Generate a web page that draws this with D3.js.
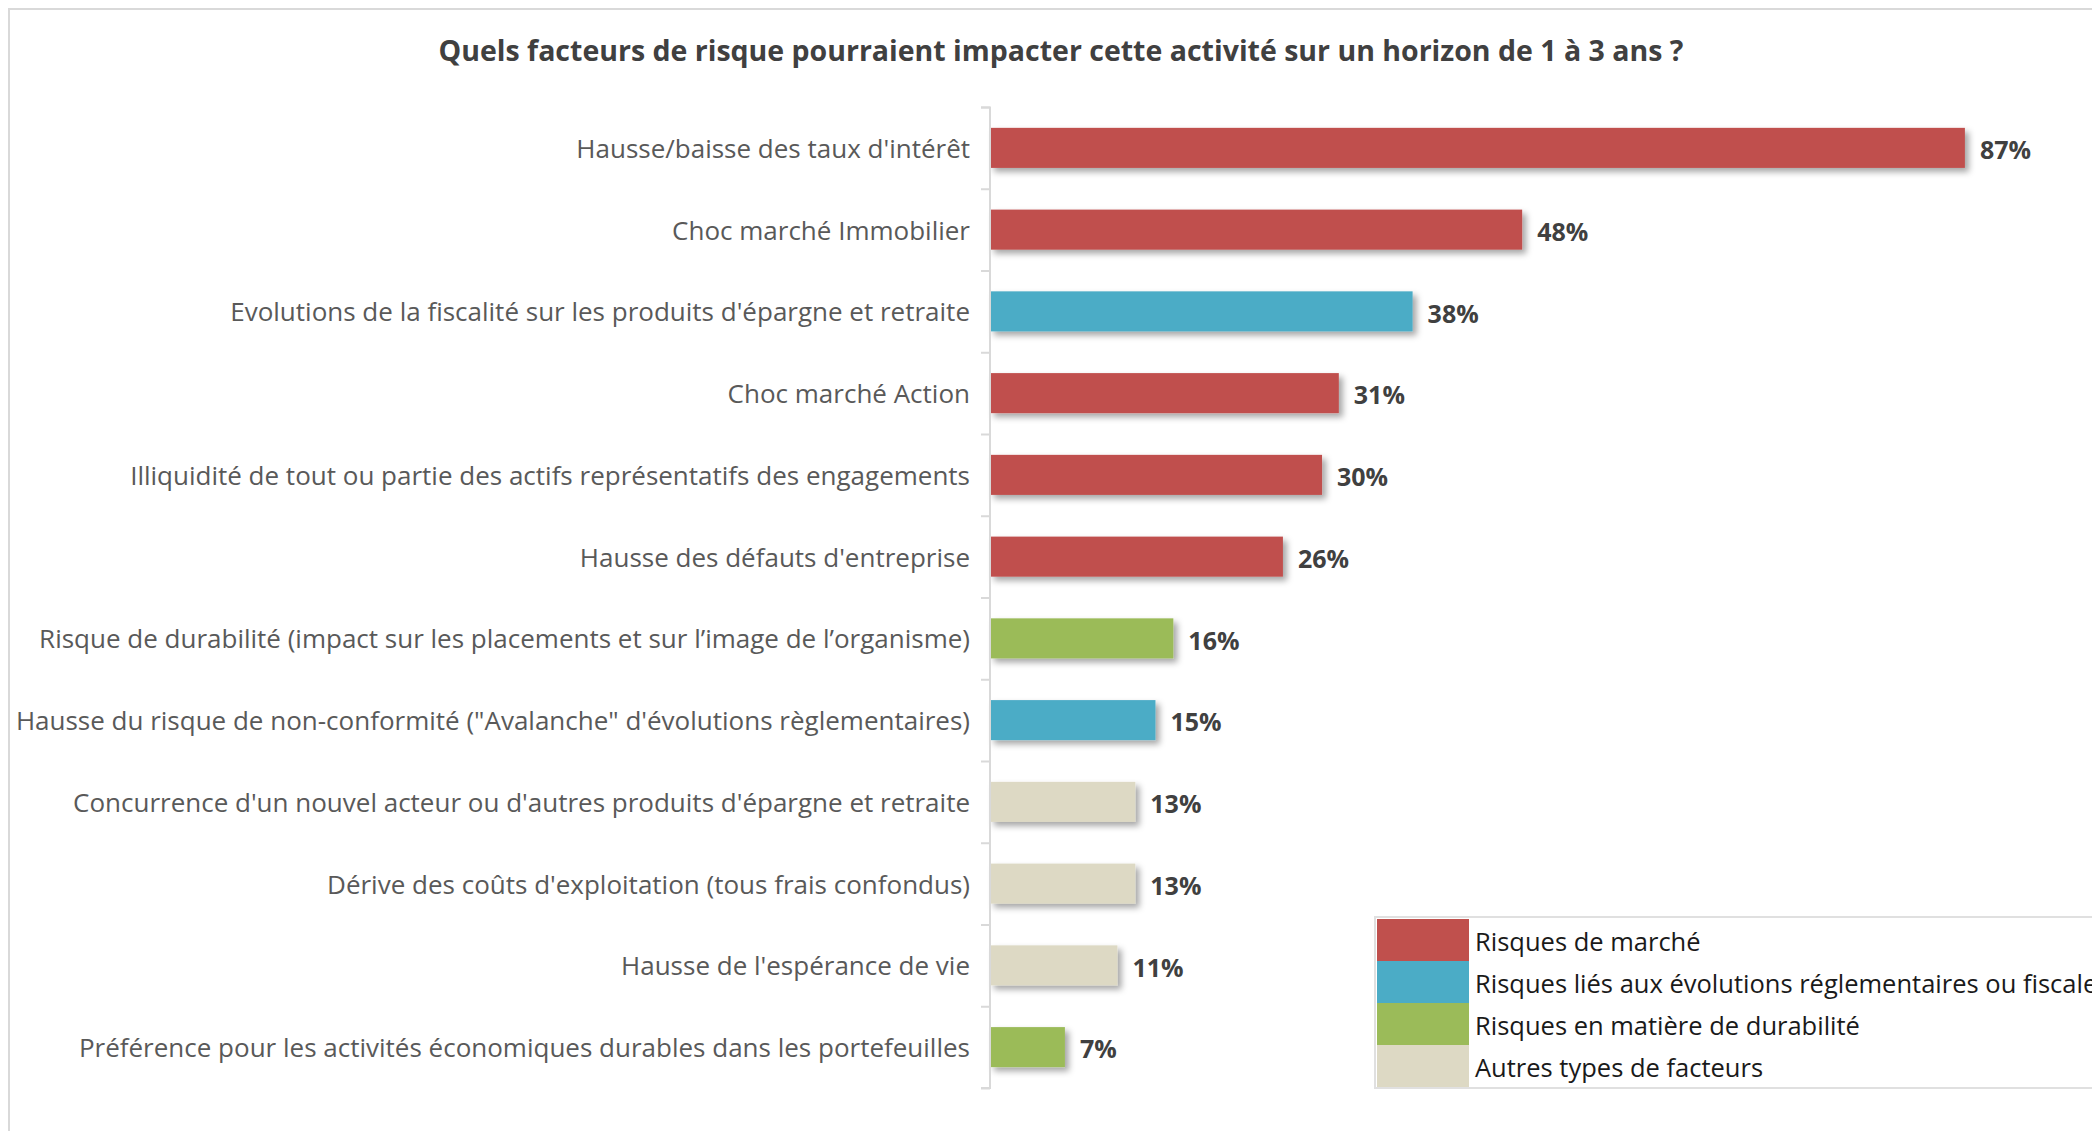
<!DOCTYPE html>
<html><head><meta charset="utf-8">
<script src="https://cdn.jsdelivr.net/npm/d3@7"></script>
<style>
html,body{margin:0;padding:0;background:#fff;overflow:hidden}
text{font-family:"Open Sans",sans-serif}
</style></head>
<body><svg id="chart" width="2092" height="1131"></svg>
<script>
const title = "Quels facteurs de risque pourraient impacter cette activité sur un horizon de 1 à 3 ans ?";
const categories = [
  "Hausse/baisse des taux d'intérêt",
  "Choc marché Immobilier",
  "Evolutions de la fiscalité sur les produits d'épargne et retraite",
  "Choc marché Action",
  "Illiquidité de tout ou partie des actifs représentatifs des engagements",
  "Hausse des défauts d'entreprise",
  "Risque de durabilité (impact sur les placements et sur l’image de l’organisme)",
  "Hausse du risque de non-conformité (\"Avalanche\" d'évolutions règlementaires)",
  "Concurrence d'un nouvel acteur ou d'autres produits d'épargne et retraite",
  "Dérive des coûts d'exploitation (tous frais confondus)",
  "Hausse de l'espérance de vie",
  "Préférence pour les activités économiques durables dans les portefeuilles"
];
const values = [0.872, 0.476, 0.378, 0.312, 0.297, 0.262, 0.164, 0.148, 0.130, 0.130, 0.114, 0.067];
const groups = ["marche","marche","regl","marche","marche","marche","dura","regl","autre","autre","autre","dura"];
const legendKeys = ["marche","regl","dura","autre"];
const legendLabels = ["Risques de marché","Risques liés aux évolutions réglementaires ou fiscales","Risques en matière de durabilité","Autres types de facteurs"];
const legendColors = ["#C0504D","#4BACC6","#9BBB59","#DDD9C4"];

const svg = d3.select("#chart");
const color = d3.scaleOrdinal().domain(legendKeys).range(legendColors);

const defs = svg.append("defs");
const f = defs.append("filter").attr("id","shadow").attr("x","-10%").attr("y","-20%").attr("width","130%").attr("height","160%");
f.append("feDropShadow").attr("dx",4).attr("dy",4).attr("stdDeviation",3).attr("flood-color","#000").attr("flood-opacity",0.35);

// outer frame
svg.append("path").attr("d","M9,1131 V9 H2092").attr("fill","none").attr("stroke","#D9D9D9").attr("stroke-width",2);

svg.append("text").attr("x",1061).attr("y",61).attr("text-anchor","middle")
  .attr("font-weight","bold").attr("font-size",28.5).attr("fill","#404040").text(title);

const x0 = 990;
const x = d3.scaleLinear().domain([0,1]).range([0,1118]);
const y = d3.scaleBand().domain(categories).range([107,1088]).paddingInner(0.51).paddingOuter(0.255);

const g = svg.append("g");
g.selectAll("rect.bar").data(categories).join("rect").attr("class","bar")
  .attr("x",x0).attr("y",d=>y(d)).attr("height",y.bandwidth())
  .attr("width",(d,i)=>x(values[i])).attr("fill",(d,i)=>color(groups[i]))
  .attr("filter","url(#shadow)");

// axis
const axis = d3.axisLeft(d3.scaleLinear().domain([0,categories.length]).range([107,1088]))
  .tickValues(d3.range(categories.length+1)).tickSize(9).tickFormat("");
const ag = svg.append("g").attr("transform",`translate(${x0},0)`).call(axis);
ag.selectAll("path,line").attr("stroke","#D9D9D9").attr("stroke-width",2);
ag.select(".domain").attr("d","M-9,107.5H0V1088H-9");

g.selectAll("text.cat").data(categories).join("text").attr("class","cat")
  .attr("x",970).attr("y",d=>y(d)+y.bandwidth()/2).attr("dy","0.38em")
  .attr("text-anchor","end").attr("font-size",26).attr("fill","#595959").text(d=>d);

g.selectAll("text.val").data(categories).join("text").attr("class","val")
  .attr("x",(d,i)=>x0+x(values[i])+15).attr("y",d=>y(d)+y.bandwidth()/2).attr("dy","0.45em")
  .attr("font-size",25).attr("font-weight","bold").attr("fill","#404040")
  .text((d,i)=>d3.format(".0%")(values[i]));

// legend
const lg = svg.append("g");
lg.append("rect").attr("x",1375).attr("y",917).attr("width",800).attr("height",171)
  .attr("fill","#fff").attr("stroke","#E0E0E0").attr("stroke-width",2);
const ly = d3.scaleBand().domain(legendKeys).range([919,1087]);
lg.selectAll("rect.sw").data(legendKeys).join("rect").attr("class","sw")
  .attr("x",1377).attr("y",d=>ly(d)).attr("width",92).attr("height",ly.bandwidth()).attr("fill",d=>color(d));
lg.selectAll("text").data(legendKeys).join("text")
  .attr("x",1475).attr("y",d=>ly(d)+ly.bandwidth()/2).attr("dy","0.45em")
  .attr("font-size",25.5).attr("fill","#1a1a1a").text((d,i)=>legendLabels[i]);
</script></body></html>
